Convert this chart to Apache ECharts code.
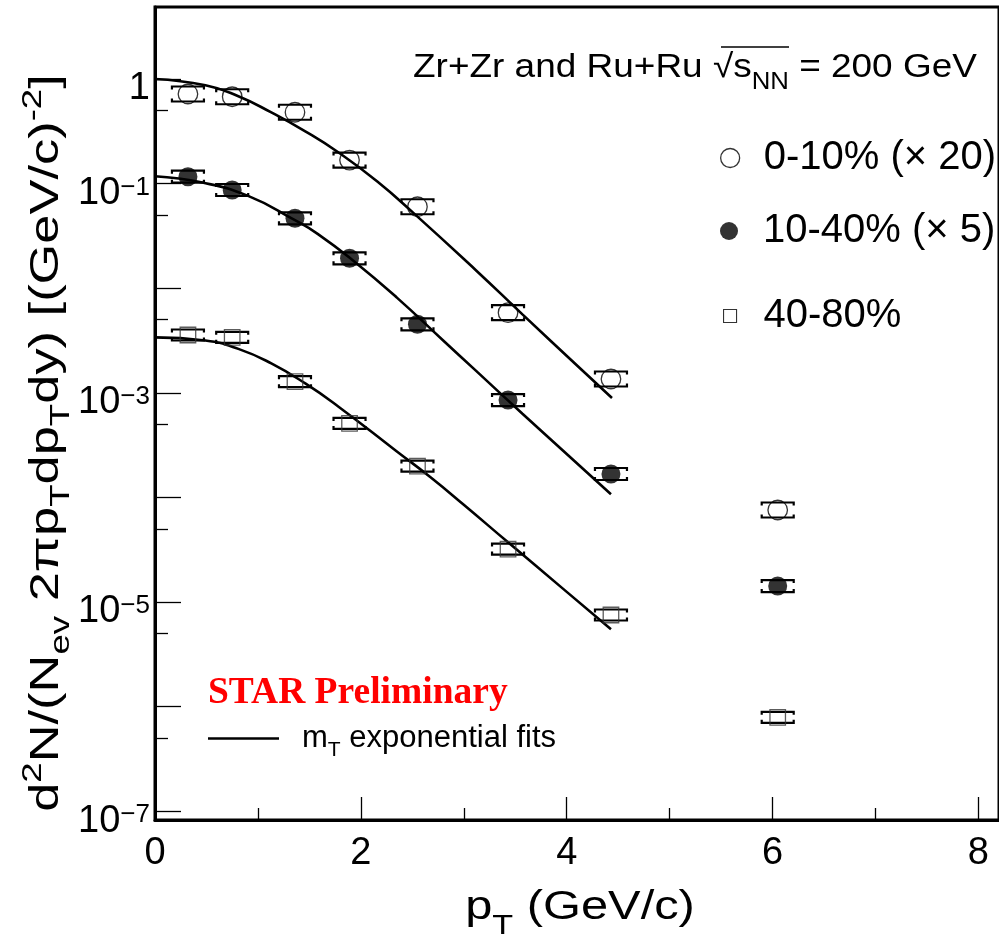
<!DOCTYPE html>
<html><head><meta charset="utf-8">
<script src="https://cdn.jsdelivr.net/npm/echarts@6/dist/echarts.min.js"></script>
<style>html,body{margin:0;padding:0;background:#fff}#c{width:999px;height:941px}</style>
</head><body><div id="c"></div>
<script>
// ---- data ----
const pT      = [0.32, 0.75, 1.36, 1.89, 2.55, 3.43, 4.43, 6.05];
const cent010 = [0.719, 0.677, 0.481, 0.168, 0.0601, 0.00583, 0.001355, 7.58e-5];
const cent1040= [0.1164, 0.0869, 0.0466, 0.0193, 0.00452, 8.53e-4, 1.675e-4, 1.42e-5];
const cent4080= [0.00357, 0.00339, 0.001277, 5.1e-4, 1.995e-4, 3.21e-5, 7.51e-6, 7.9e-7];

const fit010P  = [0, 0.49, 0.81, 1.13, 1.46, 1.78, 2.16, 2.51, 3.12, 3.57, 4.09, 4.44];
const fit010V  = [1.0, 0.871, 0.684, 0.479, 0.316, 0.1995, 0.1047, 0.0525, 0.01479, 0.00562, 0.001862, 8.91e-4];
const fit1040P = [0, 0.46, 0.91, 1.36, 1.58, 1.93, 2.35, 2.80, 3.12, 3.57, 3.96, 4.43];
const fit1040V = [0.1175, 0.1023, 0.0759, 0.0447, 0.0331, 0.0182, 0.00813, 0.00316, 0.00162, 6.31e-4, 2.82e-4, 1.07e-4];
const fit4080P = [0, 0.49, 0.81, 1.13, 1.46, 1.78, 2.35, 2.68, 3.00, 3.43, 3.96, 4.43];
const fit4080V = [0.00339, 0.00316, 0.00263, 0.00191, 0.00123, 7.41e-4, 2.75e-4, 1.55e-4, 8.51e-5, 3.72e-5, 1.35e-5, 5.5e-6];

const xMajorTicks = [0, 2, 4, 6, 8];
const xMinorTicks = [1, 3, 5, 7];
const yMajorTicks = [1, 1e-1, 1e-2, 1e-3, 1e-4, 1e-5, 1e-6, 1e-7];
const yMinorTicks = [0.5, 0.05, 0.005, 5e-4, 5e-5, 5e-6, 5e-7];
const yLabelTicks = [1, 1e-1, 1e-3, 1e-5, 1e-7];

const names = ['0-10% (\u00d7 20)', '10-40% (\u00d7 5)', '40-80%'];
const fitName = 'mT exponential fits';

// ---- chart ----
const FONT = '"Liberation Sans", Arial, Helvetica, sans-serif';
const X_MIN = 0, X_MAX = 8.2;
const Y_MIN = 8.24e-8, Y_MAX = 4.88;

const pairs = (xs, ys) => xs.map((x, i) => [x, ys[i]]);

function bracket(name, data, halfH) {
  return {
    type: 'custom', name: name, silent: true, z: 3,
    xAxisIndex: 0, yAxisIndex: 0,
    encode: {x: 0, y: 1},
    data: data,
    renderItem: function (params, api) {
      const p = api.coord([api.value(0), api.value(1)]);
      const w = 16, h = halfH, e = 3;
      const st = {stroke: '#000', lineWidth: 2.2, fill: null};
      return {type: 'group', children: [
        {type: 'polyline', shape: {points: [[p[0]-w, p[1]-h+e], [p[0]-w, p[1]-h], [p[0]+w, p[1]-h], [p[0]+w, p[1]-h+e]]}, style: st},
        {type: 'polyline', shape: {points: [[p[0]-w, p[1]+h-e], [p[0]-w, p[1]+h], [p[0]+w, p[1]+h], [p[0]+w, p[1]+h-e]]}, style: st}
      ]};
    }
  };
}

function fitLine(xs, ys) {
  return {type: 'line', name: fitName, data: pairs(xs, ys), smooth: 0.5, symbol: 'none',
    lineStyle: {color: '#000', width: 2.6}, itemStyle: {color: '#000'}, z: 2, silent: true};
}

const yLab = v => {
  const e = Math.round(Math.log10(v));
  return e === 0 ? '{n|1}' : '{n|10}{s|\u2212' + (-e) + '}';
};

const option = {
  backgroundColor: '#fff',
  animation: false,
  grid: {left: 155, top: 7, width: 852, height: 813, show: true, borderColor: '#000', borderWidth: 3, backgroundColor: 'transparent'},
  xAxis: [
    {type: 'value', min: X_MIN, max: X_MAX, position: 'bottom',
     axisLine: {show: true, lineStyle: {color: '#000', width: 3}},
     axisTick: {show: true, inside: true, length: 23, customValues: xMajorTicks, lineStyle: {color: '#000', width: 1.3}},
     axisLabel: {show: true, customValues: xMajorTicks, margin: 15, fontSize: 38, fontFamily: FONT, color: '#000'},
     splitLine: {show: false}},
    {type: 'value', min: X_MIN, max: X_MAX, position: 'bottom', offset: 0,
     axisLine: {show: false},
     axisTick: {show: true, inside: true, length: 12, customValues: xMinorTicks, lineStyle: {color: '#000', width: 1.3}},
     axisLabel: {show: false}, splitLine: {show: false}}
  ],
  yAxis: [
    {type: 'log', logBase: 10, min: Y_MIN, max: Y_MAX, position: 'left',
     axisLine: {show: true, lineStyle: {color: '#000', width: 3}},
     axisTick: {show: true, inside: true, length: 26, customValues: yMajorTicks, lineStyle: {color: '#000', width: 1.3}},
     axisLabel: {show: true, customValues: yLabelTicks, margin: 5, formatter: yLab,
       rich: {
         n: {fontSize: 38, lineHeight: 38, fontFamily: FONT, color: '#000', verticalAlign: 'top', padding: [10, 0, 0, 0]},
         s: {fontSize: 26, lineHeight: 26, fontFamily: FONT, color: '#000', verticalAlign: 'top', padding: [10, 0, 0, 0]}
       }},
     splitLine: {show: false}},
    {type: 'log', logBase: 10, min: Y_MIN, max: Y_MAX, position: 'left', offset: 0,
     axisLine: {show: false},
     axisTick: {show: true, inside: true, length: 13, customValues: yMinorTicks, lineStyle: {color: '#000', width: 1.3}},
     axisLabel: {show: false}, splitLine: {show: false}}
  ],
  legend: [
    {top: 138, left: 720, padding: 0, itemWidth: 19, itemHeight: 19, selectedMode: false,
     textStyle: {fontSize: 40, lineHeight: 40, fontFamily: FONT, color: '#000', padding: [0, 0, 0, 19]},
     data: [{name: names[0], icon: 'circle', itemStyle: {color: '#fff', borderColor: '#000', borderWidth: 1.3}}]},
    {top: 211, left: 720, padding: 0, itemWidth: 18, itemHeight: 18, selectedMode: false,
     textStyle: {fontSize: 40, lineHeight: 40, fontFamily: FONT, color: '#000', padding: [0, 0, 0, 20]},
     data: [{name: names[1], icon: 'circle', itemStyle: {color: '#000', borderWidth: 0}}]},
    {top: 296, left: 723, padding: 0, itemWidth: 13, itemHeight: 13, selectedMode: false,
     textStyle: {fontSize: 40, lineHeight: 40, fontFamily: FONT, color: '#000', padding: [0, 0, 0, 22]},
     data: [{name: names[2], icon: 'rect', itemStyle: {color: '#fff', borderColor: '#000', borderWidth: 1.1}}]},
    {top: 723, left: 208, padding: 0, itemWidth: 71, itemHeight: 2.6, selectedMode: false,
     formatter: () => '{m|m}{t|T}{m| exponential fits}',
     textStyle: {fontFamily: FONT, color: '#000', padding: [0, 0, 0, 18],
       rich: {
         m: {fontSize: 31, lineHeight: 31, fontFamily: FONT, verticalAlign: 'top', padding: [0, 0, 0, 0]},
         t: {fontSize: 21, lineHeight: 21, fontFamily: FONT, verticalAlign: 'top', padding: [17, 0, 0, 0]}
       }},
     data: [{name: fitName, icon: 'rect', itemStyle: {color: '#000', borderWidth: 0}}]}
  ],
  graphic: [
    // header
    {type: 'text', x: 413, y: 68, scaleX: 1.12, z: 10, silent: true,
     style: {text: '{a|Zr+Zr and Ru+Ru }{r|\u221a}{s|s}{b|NN}{a| = 200 GeV}', verticalAlign: 'middle', align: 'left',
       rich: {
         a: {fontSize: 33, lineHeight: 33, fontFamily: FONT, fill: '#000', verticalAlign: 'top'},
         r: {fontSize: 33, lineHeight: 33, fontFamily: FONT, fill: '#000', verticalAlign: 'top'},
         s: {fontSize: 33, lineHeight: 33, fontFamily: FONT, fill: '#000', verticalAlign: 'top'},
         b: {fontSize: 23, lineHeight: 23, fontFamily: FONT, fill: '#000', verticalAlign: 'top', padding: [20, 0, 0, 0]}
       }}},
    {type: 'line', silent: true, z: 10, shape: {x1: 721, y1: 47, x2: 789, y2: 47}, style: {stroke: '#000', lineWidth: 1.5}},
    // STAR Preliminary
    {type: 'text', x: 208, y: 693, z: 10, silent: true,
     style: {text: 'STAR Preliminary', fontFamily: '"Liberation Serif", "Times New Roman", serif', fontWeight: 'bold', fontSize: 37.5, fill: '#ff0000', verticalAlign: 'middle', align: 'left'}},
    // y title
    {type: 'text', x: 39, y: 443, rotation: Math.PI / 2, scaleX: 1.31, z: 10, silent: true,
     style: {text: '{n|d}{p|2}{n|N/(N}{b|ev}{n| 2\u03c0p}{b|T}{n|dp}{b|T}{n|dy) [(GeV/c)}{p|-2}{n|]}', align: 'center', verticalAlign: 'middle',
       rich: {
         n: {fontSize: 40, lineHeight: 40, fontFamily: FONT, fill: '#000', verticalAlign: 'top', padding: [8, 0, 0, 0]},
         p: {fontSize: 28, lineHeight: 28, fontFamily: FONT, fill: '#000', verticalAlign: 'top'},
         b: {fontSize: 28, lineHeight: 28, fontFamily: FONT, fill: '#000', verticalAlign: 'top', padding: [28, 0, 0, 0]}
       }}},
    // x title
    {type: 'text', x: 580, y: 908, scaleX: 1.22, z: 10, silent: true,
     style: {text: '{n|p}{b|T}{n| (GeV/c)}', align: 'center', verticalAlign: 'middle',
       rich: {
         n: {fontSize: 40, lineHeight: 40, fontFamily: FONT, fill: '#000', verticalAlign: 'top'},
         b: {fontSize: 28, lineHeight: 28, fontFamily: FONT, fill: '#000', verticalAlign: 'top', padding: [24, 0, 0, 0]}
       }}}
  ],
  series: [
    fitLine(fit010P, fit010V),
    fitLine(fit1040P, fit1040V),
    fitLine(fit4080P, fit4080V),
    bracket('sys010', pairs(pT, cent010), 7.5),
    bracket('sys1040', pairs(pT, cent1040), 6),
    bracket('sys4080', pairs(pT, cent4080), 5.5),
    {type: 'scatter', name: names[0], data: pairs(pT, cent010), symbol: 'circle', symbolSize: 19.5, z: 4, silent: true,
     itemStyle: {color: 'rgba(255,255,255,0)', borderColor: '#000', borderWidth: 1.3}},
    {type: 'scatter', name: names[1], data: pairs(pT, cent1040), symbol: 'circle', symbolSize: 19, z: 4, silent: true,
     itemStyle: {color: '#000'}},
    {type: 'scatter', name: names[2], data: pairs(pT, cent4080), symbol: 'rect', symbolSize: 15.5, z: 4, silent: true,
     itemStyle: {color: 'rgba(255,255,255,0)', borderColor: '#333', borderWidth: 1.3}}
  ]
};

const chart = echarts.init(document.getElementById('c'), null, {renderer: 'canvas'});
chart.setOption(option);
</script>
</body></html>
